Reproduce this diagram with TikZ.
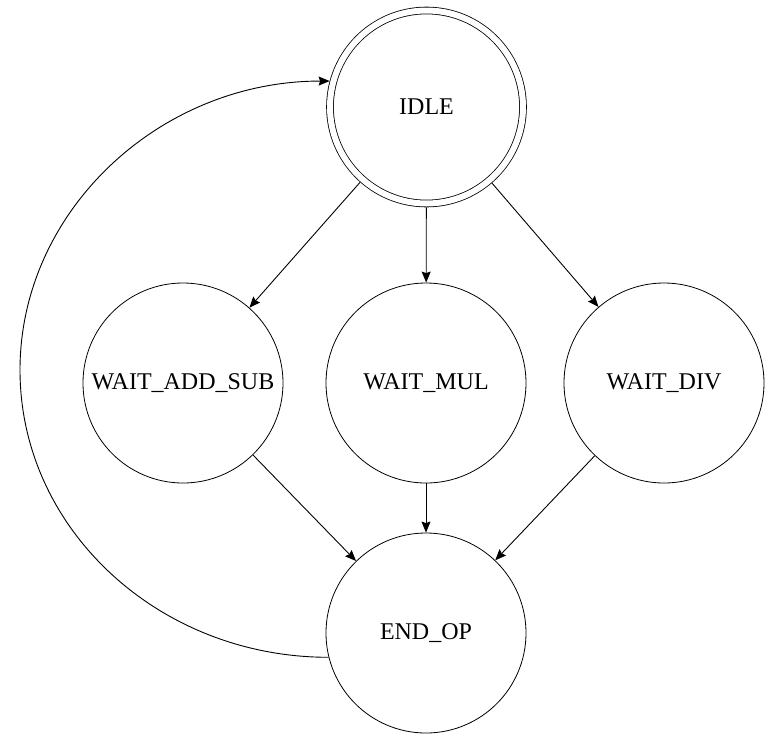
\documentclass[tikz,border=0pt]{standalone}
\usepackage{fontspec}
\setmainfont{Liberation Serif}
\usetikzlibrary{automata, arrows.meta}

\begin{document}
\begin{tikzpicture}[x=1pt, y=-1pt]
        % Setup the style for the states
        \tikzset{node style/.style={state,
                                    minimum size=200pt,
                                    inner sep=0pt,
                                    line width=0.8pt,
                                    font=\fontsize{24}{28}\selectfont},
                 start style/.style={node style,
                                    minimum size=193pt,
                                    double,
                                    double distance=6pt,
                                    outer sep=3.8pt},
                 link/.style={line width=0.9pt,
                              -{Stealth[length=11pt, width=9pt, inset=1.5pt]}}}

        \useasboundingbox (0,0) rectangle (772,740);

        % Draw the states
        \node[start style] at (426.5, 107) (idle)   {IDLE};
        \node[node style]  at (183, 383)   (addsub) {WAIT\_ADD\_SUB};
        \node[node style]  at (426, 383)   (mul)    {WAIT\_MUL};
        \node[node style]  at (664, 383)   (div)    {WAIT\_DIV};
        \node[node style]  at (426, 633)   (endop)  {END\_OP};
        \coordinate (back) at (20, 370);

        % Connect the states with arrows
        \draw[link]
            (idle)   edge (addsub)
            (idle)   edge (mul)
            (idle)   edge (div)
            (addsub) edge (endop)
            (mul)    edge (endop)
            (div)    edge (endop);
        \draw[link] (endop.194.5) .. controls +(-170,0) and +(0,159) .. (back)
                                  .. controls +(0,-159) and +(-170,0) .. (idle.165.5);
\end{tikzpicture}
\end{document}
